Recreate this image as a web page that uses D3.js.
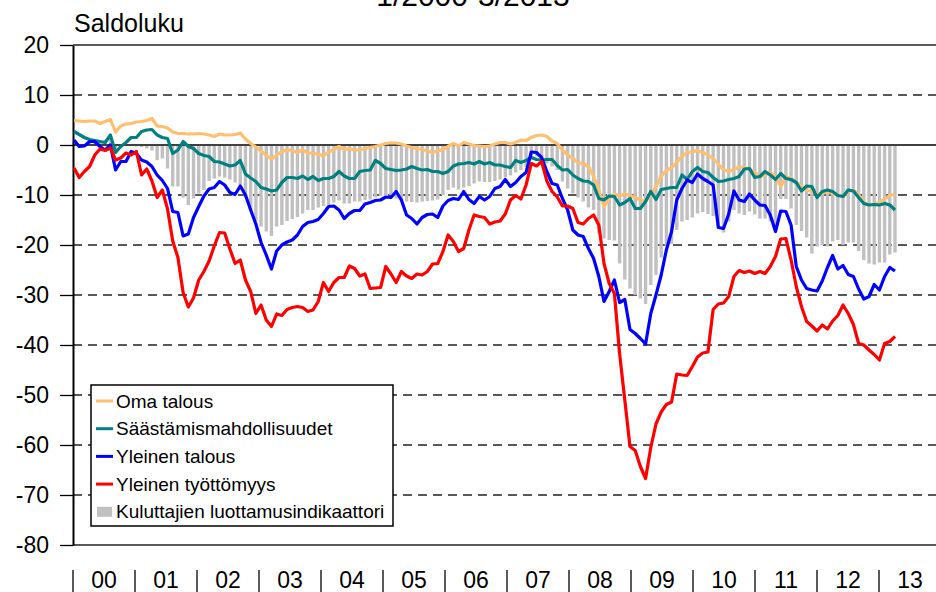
<!DOCTYPE html>
<html>
<head>
<meta charset="utf-8">
<script src="https://cdn.jsdelivr.net/npm/d3@7"></script>
<style>
  body { margin: 0; background: #fff; }
  svg { display: block; font-family: "Liberation Sans", Arial, sans-serif; }
</style>
</head>
<body>
<svg id="chart"></svg>
<script>
// monthly data 1/2000 - 3/2013, saldoluku
const years = ['00','01','02','03','04','05','06','07','08','09','10','11','12','13'];
const yTicks = [20, 10, 0, -10, -20, -30, -40, -50, -60, -70, -80];

const omaTalous = [
  4.9, 4.8, 4.7, 4.8, 4.8, 4.3, 4.7, 5.1, 2.6, 3.8, 4.2, 4.3,
  4.6, 4.7, 4.9, 5.3, 3.8, 3.7, 3.4, 2.6, 2.3, 2.3, 2.2, 2.2,
  2.3, 2.2, 2.0, 1.7, 2.2, 2.0, 2.0, 2.1, 2.4, 1.2, 0.3, -0.4,
  -1.2, -2.1, -2.8, -2.0, -1.3, -1.0, -1.1, -1.5, -1.0, -1.6, -1.7, -1.8,
  -2.2, -1.4, -0.9, -0.3, -0.9, -0.7, -1.0, -1.0, -0.7, -0.5, -0.3, 0.0,
  0.3, 0.45, 0.4, 0.2, -0.2, -0.5, -0.7, -0.9, -1.2, -1.5, -1.2, -0.9,
  -0.3, 0.3, -0.2, 0.5, 0.2, -0.1, -0.2, -0.3, -0.2, 0.2, 0.5, 0.5,
  0.2, 0.5, 1.0, 0.9, 1.5, 1.9, 2.0, 1.7, 0.8, 0.3, -1.0, -2.0,
  -2.7, -3.5, -3.7, -4.3, -6.3, -9.1, -12.3, -10.7, -9.8, -10.2, -9.8, -10.1,
  -10.5, -11.0, -11.3, -10.0, -8.3, -6.3, -5.1, -4.5, -3.5, -2.2, -1.5, -1.4,
  -1.1, -1.5, -2.0, -2.7, -3.8, -5.0, -5.2, -5.0, -4.3, -4.5, -4.8, -5.5,
  -6.3, -6.0, -5.5, -6.3, -8.3, -6.3, -6.7, -7.5, -8.3, -9.0, -9.3, -9.7,
  -9.7, -9.3, -9.7, -10.0, -10.3, -9.3, -9.0, -10.0, -11.5, -12.0, -11.9, -11.5,
  -10.8, -10.1, -9.9
];

const saastamis = [
  2.7, 2.1, 1.5, 1.1, 0.9, 0.7, 0.5, 2.0, -1.5, -0.3, 0.5, 1.5,
  1.5, 2.7, 3.0, 3.1, 2.0, 1.5, 1.3, -1.7, -1.0, 0.7, -0.3, -0.7,
  -1.7, -2.1, -2.3, -3.3, -3.4, -3.8, -4.2, -4.0, -3.1, -5.8, -6.6, -7.3,
  -8.5, -8.8, -9.2, -9.0, -7.5, -6.5, -6.5, -6.7, -6.2, -6.9, -6.3, -7.1,
  -6.7, -6.7, -6.3, -5.3, -6.2, -6.7, -6.7, -5.3, -5.1, -5.0, -3.1, -3.7,
  -4.7, -4.9, -5.1, -5.0, -4.8, -4.3, -4.7, -5.0, -4.9, -5.3, -5.3, -5.7,
  -5.3, -4.2, -3.8, -3.7, -3.5, -3.8, -3.3, -3.8, -3.5, -4.0, -4.0, -4.3,
  -4.5, -3.1, -3.5, -3.1, -2.5, -2.9, -3.0, -2.9, -2.9, -4.1, -5.0, -4.9,
  -6.0, -6.7, -7.2, -7.3, -8.0, -10.7, -11.0, -10.2, -10.3, -12.0, -11.5, -10.7,
  -12.7, -12.7, -11.3, -9.3, -10.9, -8.9, -8.7, -8.5, -8.5, -6.0, -6.9, -5.3,
  -4.5, -5.3, -5.5, -6.5, -7.3, -7.2, -6.9, -6.7, -6.3, -4.8, -4.7, -6.5,
  -6.3, -5.3, -6.0, -6.9, -5.7, -6.7, -6.9, -7.5, -9.2, -8.2, -8.3, -10.5,
  -9.3, -9.0, -9.3, -10.1, -10.3, -9.0, -9.2, -10.5, -11.7, -12.0, -11.9, -12.0,
  -11.7, -12.0, -13.0
];

const yleinenTalous = [
  1.0, -0.3, -0.2, 0.7, 0.7, -0.3, -1.0, 0.0, -5.0, -3.3, -3.3, -1.3,
  -1.7, -3.0, -3.4, -4.3, -6.0, -7.1, -8.7, -13.3, -13.5, -18.2, -17.8, -14.5,
  -12.3, -10.2, -8.8, -8.5, -7.3, -8.0, -9.5, -9.9, -8.2, -10.0, -13.0, -15.8,
  -19.5, -22.0, -24.8, -21.2, -20.0, -19.4, -19.0, -18.0, -16.3, -15.5, -15.3, -14.9,
  -13.7, -12.3, -12.2, -13.0, -14.7, -13.7, -13.1, -13.1, -11.8, -11.5, -11.1, -11.0,
  -10.4, -10.5, -9.3, -11.0, -14.0, -14.7, -15.8, -14.5, -13.9, -13.8, -14.5, -12.2,
  -11.1, -10.7, -10.9, -9.3, -10.9, -11.7, -10.3, -11.0, -10.3, -8.7, -8.3, -6.9,
  -8.3, -7.5, -6.3, -5.5, -1.4, -1.5, -2.5, -5.3, -7.7, -8.0, -10.7, -13.0,
  -17.0, -18.0, -18.3, -20.7, -22.7, -26.3, -31.3, -29.3, -27.0, -31.5, -30.9, -36.9,
  -37.7, -38.7, -39.8, -33.7, -30.0, -26.0, -21.0, -17.3, -11.0, -8.7, -7.0, -7.5,
  -5.8, -6.7, -7.3, -8.0, -16.5, -16.7, -13.8, -9.2, -11.0, -11.3, -9.8, -11.0,
  -12.0, -12.1, -14.0, -17.3, -13.2, -13.3, -16.0, -24.3, -27.0, -28.7, -29.0, -29.2,
  -27.2, -24.5, -22.1, -24.8, -24.1, -25.9, -26.3, -28.8, -30.8, -30.3, -27.9, -29.0,
  -26.3, -24.5, -25.2
];

const tyottomyys = [
  -4.6, -6.5, -5.3, -4.3, -2.0, -0.8, -1.1, -0.6, -3.0, -2.6, -1.6, -2.0,
  -1.3, -6.0, -4.8, -7.2, -10.5, -9.0, -12.8, -19.2, -22.5, -29.5, -32.4, -30.6,
  -27.0, -25.3, -23.2, -20.2, -17.5, -17.6, -20.8, -23.7, -23.0, -27.0, -29.3, -33.7,
  -32.0, -35.0, -36.3, -33.8, -34.1, -32.9, -32.5, -32.3, -32.5, -33.3, -33.0, -31.3,
  -27.5, -29.3, -27.5, -26.5, -26.5, -24.2, -24.7, -26.2, -25.8, -28.7, -28.6, -28.5,
  -24.3, -25.8, -27.5, -25.3, -26.2, -26.7, -25.8, -26.0, -25.3, -23.8, -23.7, -21.3,
  -18.0, -19.3, -21.3, -20.7, -17.0, -14.0, -14.3, -14.5, -15.8, -15.4, -15.2, -13.8,
  -11.0, -10.1, -10.8, -8.0, -3.7, -4.2, -3.3, -7.2, -9.3, -10.4, -12.2, -12.2,
  -12.7, -15.5, -15.8, -14.7, -14.0, -16.0, -23.7, -27.7, -29.7, -41.7, -51.0, -60.3,
  -61.1, -64.3, -66.7, -60.5, -55.8, -53.4, -51.9, -51.4, -45.8, -46.0, -46.1, -44.3,
  -42.4, -41.6, -41.4, -32.9, -31.8, -31.6, -30.3, -26.3, -25.1, -25.5, -25.2, -25.7,
  -25.3, -25.7, -24.3, -22.3, -18.8, -18.7, -23.0, -28.3, -32.3, -35.3, -36.2, -37.2,
  -36.0, -36.8, -35.2, -34.1, -32.0, -33.7, -35.9, -39.7, -40.0, -41.0, -41.9, -43.0,
  -39.7, -39.3, -38.3
];

const luottamus = [
  0.8, 0.0, 0.2, 0.5, 0.8, 0.8, 0.6, 1.2, -1.5, -0.5, -0.2, -0.1,
  -0.3, -0.4, -0.7, -1.1, -3.0, -2.7, -4.7, -8.3, -8.3, -10.5, -12.0, -10.7,
  -9.7, -9.0, -7.2, -6.7, -6.3, -6.5, -6.9, -7.5, -8.0, -10.5, -13.2, -15.2,
  -16.3, -17.3, -18.2, -16.3, -16.0, -15.2, -14.8, -14.4, -13.7, -13.0, -13.0, -12.5,
  -12.2, -12.0, -11.5, -11.1, -11.7, -11.7, -11.3, -11.3, -11.0, -10.9, -10.5, -10.2,
  -10.0, -10.0, -10.7, -11.0, -11.3, -11.4, -11.5, -11.3, -11.2, -11.1, -10.9, -10.0,
  -9.0, -8.5, -8.9, -8.5, -8.2, -7.7, -7.3, -7.4, -7.4, -7.2, -6.9, -6.5,
  -6.1, -5.5, -5.0, -4.4, -2.7, -2.3, -2.6, -3.7, -4.3, -5.0, -7.3, -8.7,
  -9.7, -10.5, -11.3, -12.5, -13.0, -17.7, -18.7, -19.0, -19.1, -23.7, -26.9, -28.7,
  -30.0, -30.7, -31.8, -28.0, -26.0, -22.5, -20.3, -19.8, -17.0, -15.3, -15.0, -14.5,
  -13.7, -13.4, -13.8, -14.2, -16.3, -17.5, -15.3, -13.0, -13.7, -14.0, -13.3, -13.9,
  -14.7, -14.7, -15.3, -16.0, -10.8, -10.8, -12.7, -16.0, -17.2, -18.5, -21.7, -20.3,
  -20.0, -20.3, -19.3, -19.0, -20.0, -19.5, -19.5, -21.2, -23.0, -23.7, -23.9, -23.5,
  -23.5, -21.9, -21.5
];

const lineSeries = [
  {name: 'Oma talous', values: omaTalous, color: '#FFBF6F'},
  {name: 'Säästämismahdollisuudet', values: saastamis, color: '#008080'},
  {name: 'Yleinen talous', values: yleinenTalous, color: '#0000FF'},
  {name: 'Yleinen työttömyys', values: tyottomyys, color: '#FF0000'}
];
const barName = 'Kuluttajien luottamusindikaattori';
const barColor = '#C0C0C0';

const width = 936, height = 592;
const plot = {left: 73, right: 941, top: 45, bottom: 545};

const svg = d3.select('#chart')
    .attr('width', width)
    .attr('height', height);

const xScale = d3.scaleLinear()
    .domain([0, luottamus.length - 1])
    .range([74, 895]);

const yScale = d3.scaleLinear()
    .domain([-80, 20])
    .range([plot.bottom, plot.top]);

const yearScale = d3.scaleBand()
    .domain(years)
    .range([plot.left, plot.left + 62 * years.length]);

// title (mostly cut off at the top edge)
svg.append('text')
    .attr('x', 473)
    .attr('y', 6)
    .attr('text-anchor', 'middle')
    .style('font-size', '30px')
    .text('1/2000-3/2013');

svg.append('text')
    .attr('x', 74)
    .attr('y', 32)
    .style('font-size', '25px')
    .text('Saldoluku');

// gridlines
svg.append('g')
    .selectAll('line')
    .data(yTicks.filter(d => d !== 0 && d !== 20 && d !== -80))
    .join('line')
    .attr('x1', plot.left)
    .attr('x2', plot.right)
    .attr('y1', d => yScale(d))
    .attr('y2', d => yScale(d))
    .attr('stroke', '#222')
    .attr('stroke-width', 1.3)
    .attr('stroke-dasharray', '9,6');

// bars
svg.append('g')
    .selectAll('rect')
    .data(luottamus)
    .join('rect')
    .attr('x', (d, i) => xScale(i) - 1.7)
    .attr('width', 3.4)
    .attr('y', d => Math.min(yScale(d), yScale(0)))
    .attr('height', d => Math.abs(yScale(d) - yScale(0)))
    .attr('fill', barColor);

// top, bottom and zero lines
svg.append('g')
    .selectAll('line')
    .data([20, -80])
    .join('line')
    .attr('x1', plot.left)
    .attr('x2', plot.right)
    .attr('y1', d => yScale(d))
    .attr('y2', d => yScale(d))
    .attr('stroke', '#222')
    .attr('stroke-width', 1.5);

svg.append('line')
    .attr('x1', plot.left)
    .attr('x2', plot.right)
    .attr('y1', yScale(0))
    .attr('y2', yScale(0))
    .attr('stroke', '#404040')
    .attr('stroke-width', 2.2);

// y axis
const yAxis = d3.axisLeft(yScale)
    .tickValues(yTicks)
    .tickFormat(d => String(d))
    .tickSize(13)
    .tickPadding(11)
    .tickSizeOuter(0);

const yAxisG = svg.append('g')
    .attr('transform', `translate(${plot.left},0)`)
    .call(yAxis);
yAxisG.select('.domain').attr('stroke', '#000').attr('stroke-width', 2);
yAxisG.selectAll('.tick line').attr('stroke', '#000').attr('stroke-width', 1.3);
yAxisG.selectAll('.tick text')
    .attr('fill', '#000')
    .style('font-size', '23px')
    .style('font-family', '"Liberation Sans", Arial, sans-serif');

// lines
const line = d3.line()
    .x((d, i) => xScale(i))
    .y(d => yScale(d));

svg.append('g')
    .selectAll('path')
    .data(lineSeries)
    .join('path')
    .attr('d', d => line(d.values))
    .attr('fill', 'none')
    .attr('stroke', d => d.color)
    .attr('stroke-width', 3.2)
    .attr('stroke-linejoin', 'round');

// year labels with separators
const xAxisG = svg.append('g');
xAxisG.selectAll('line')
    .data(years)
    .join('line')
    .attr('x1', d => yearScale(d))
    .attr('x2', d => yearScale(d))
    .attr('y1', 570)
    .attr('y2', 592)
    .attr('stroke', '#000')
    .attr('stroke-width', 1.3);
xAxisG.selectAll('text')
    .data(years)
    .join('text')
    .attr('x', d => yearScale(d) + yearScale.bandwidth() / 2)
    .attr('y', 588)
    .attr('text-anchor', 'middle')
    .style('font-size', '23px')
    .text(d => d);

// legend
const legend = svg.append('g').attr('transform', 'translate(91,385)');
legend.append('rect')
    .attr('width', 302)
    .attr('height', 141)
    .attr('fill', '#fff')
    .attr('stroke', '#000')
    .attr('stroke-width', 1.5);

const legendItems = lineSeries.map(d => ({name: d.name, color: d.color, type: 'line'}))
    .concat([{name: barName, color: barColor, type: 'bar'}]);

const items = legend.selectAll('g.item')
    .data(legendItems)
    .join('g')
    .attr('class', 'item')
    .attr('transform', (d, i) => `translate(0,${16 + i * 27.7})`);

items.filter(d => d.type === 'line').append('line')
    .attr('x1', 5).attr('x2', 22)
    .attr('stroke', d => d.color)
    .attr('stroke-width', 3);
items.filter(d => d.type === 'bar').append('rect')
    .attr('x', 6).attr('y', -5)
    .attr('width', 15).attr('height', 10)
    .attr('fill', d => d.color);
items.append('text')
    .attr('x', 25)
    .attr('dy', '0.35em')
    .style('font-size', '19px')
    .text(d => d.name);
</script>
</body>
</html>
